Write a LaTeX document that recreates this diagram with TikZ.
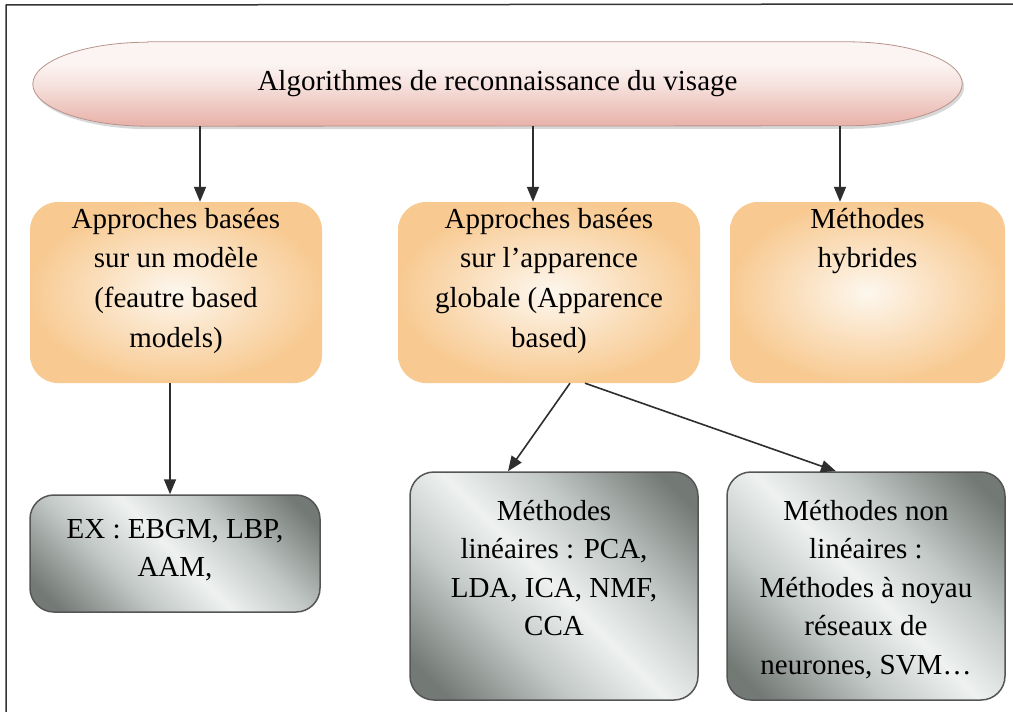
\documentclass[tikz,border=0pt]{standalone}
\usepackage{fontspec}
\setmainfont{Liberation Serif}
\usetikzlibrary{arrows.meta,calc,backgrounds}

\definecolor{pinkdark}{HTML}{E8B1A8}
\definecolor{pinklight}{HTML}{FBF4F2}
\definecolor{pinkmid}{HTML}{F6E2DE}
\definecolor{pinkedge}{HTML}{B8938D}
\definecolor{orangeedge}{HTML}{F8CA92}
\definecolor{cream}{HTML}{FDF7EE}
\definecolor{metaldark}{HTML}{737A76}
\definecolor{metalmid}{HTML}{C3C9C6}
\definecolor{metallight}{HTML}{EEF1F0}
\definecolor{metaledge}{HTML}{555555}
\definecolor{arrowgray}{HTML}{2E2E2E}
\definecolor{framegray}{HTML}{333333}

% diagonal brushed-metal look for the lower boxes
\pgfdeclarehorizontalshading{metal}{100bp}{%
  color(0bp)=(metaldark); color(20bp)=(metaldark); color(37bp)=(metalmid);
  color(50bp)=(metallight); color(63bp)=(metalmid); color(80bp)=(metaldark);
  color(100bp)=(metaldark)}

% soft pink capsule: pale upper half, pink lower edge
\pgfdeclareverticalshading{capsule}{100bp}{%
  color(0bp)=(pinkdark); color(25bp)=(pinkdark); color(50bp)=(pinkmid);
  color(62bp)=(pinklight); color(75bp)=(pinklight); color(100bp)=(pinklight)}

\newcommand\boxtext[4]{\parbox[c][#2][t]{#1}{\centering\vspace*{#3}#4}}

\tikzset{
  title/.style={inner sep=0pt, minimum width=929pt, minimum height=84pt,
    font=\fontsize{29}{34}\selectfont},
  upbox/.style={rounded corners=28pt, shading=radial, inner color=cream,
    outer color=orangeedge, inner sep=0pt, font=\fontsize{29}{39.7}\selectfont},
  lowbox/.style={draw=metaledge, line width=1.5pt, rounded corners=24pt, shade,
    shading=metal, shading angle=45, inner sep=0pt,
    font=\fontsize{29}{38.5}\selectfont},
  arr/.style={draw=arrowgray, line width=1.6pt,
    -{Triangle[length=15pt,width=12pt]}},
}

\begin{document}
\begin{tikzpicture}[x=1pt,y=1pt]
\useasboundingbox (0,0) rectangle (1013,-712);

% title capsule
\node[title] (cap) at (497.5,-84) {Algorithmes de reconnaissance du visage};
\begin{scope}[on background layer]
  \fill[white] (0,0) rectangle (1013,-712);
  \fill[black!25, opacity=0.6]
    ($(cap.north west)+(117,-3)$) -- ($(cap.north east)+(-113,-3)$)
    arc[start angle=90, end angle=-90, x radius=115, y radius=42]
    -- ($(cap.south west)+(117,-3)$)
    arc[start angle=270, end angle=90, x radius=115, y radius=42] -- cycle;
  \shade[shading=capsule, draw=pinkedge, line width=0.8pt]
    ($(cap.north west)+(115,0)$) -- ($(cap.north east)+(-115,0)$)
    arc[start angle=90, end angle=-90, x radius=115, y radius=42]
    -- ($(cap.south west)+(115,0)$)
    arc[start angle=270, end angle=90, x radius=115, y radius=42] -- cycle;
\end{scope}

% frame
\draw[framegray, line width=1.5pt] (6,-712) -- (6,-5) -- (1013,-4);

% second row
\node[upbox] (b1) at (176,-292.5)
  {\boxtext{292pt}{181pt}{6pt}{Approches basées\\sur un modèle\\(feautre based\\models)}};
\node[upbox] (b2) at (549,-292.5)
  {\boxtext{302pt}{181pt}{6pt}{Approches basées\\sur l’apparence\\globale (Apparence\\based)}};
\node[upbox] (b3) at (867.5,-292.5)
  {\boxtext{275pt}{181pt}{6pt}{Méthodes\\hybrides}};

% third row
\node[lowbox] (ex) at (175,-553.5)
  {\boxtext{290pt}{117pt}{24pt}{EX : EBGM, LBP,\\AAM,}};
\node[lowbox] (lin) at (554,-586)
  {\boxtext{288pt}{228pt}{28pt}{Méthodes\\linéaires : PCA,\\LDA, ICA, NMF,\\CCA}};
\node[lowbox] (nl) at (866,-586)
  {\boxtext{278pt}{228pt}{28pt}{Méthodes non\\linéaires :\\Méthodes à noyau\\réseaux de\\neurones, SVM…}};

% connectors
\coordinate (t1) at ([xshift=24pt]b1.north);
\coordinate (t2) at ([xshift=-16pt]b2.north);
\coordinate (t3) at ([xshift=-27.5pt]b3.north);
\draw[arr] (cap.south -| t1) -- (t1);
\draw[arr] (cap.south -| t2) -- (t2);
\draw[arr] (cap.south -| t3) -- (t3);

\coordinate (s1) at ([xshift=-6pt]b1.south);
\draw[arr] (s1) -- (s1 |- ex.north);
\draw[arr] ([xshift=21pt]b2.south) -- ([xshift=-46pt]lin.north);
\draw[arr] ([xshift=36pt]b2.south) -- ([xshift=-30pt]nl.north);
\end{tikzpicture}
\end{document}
